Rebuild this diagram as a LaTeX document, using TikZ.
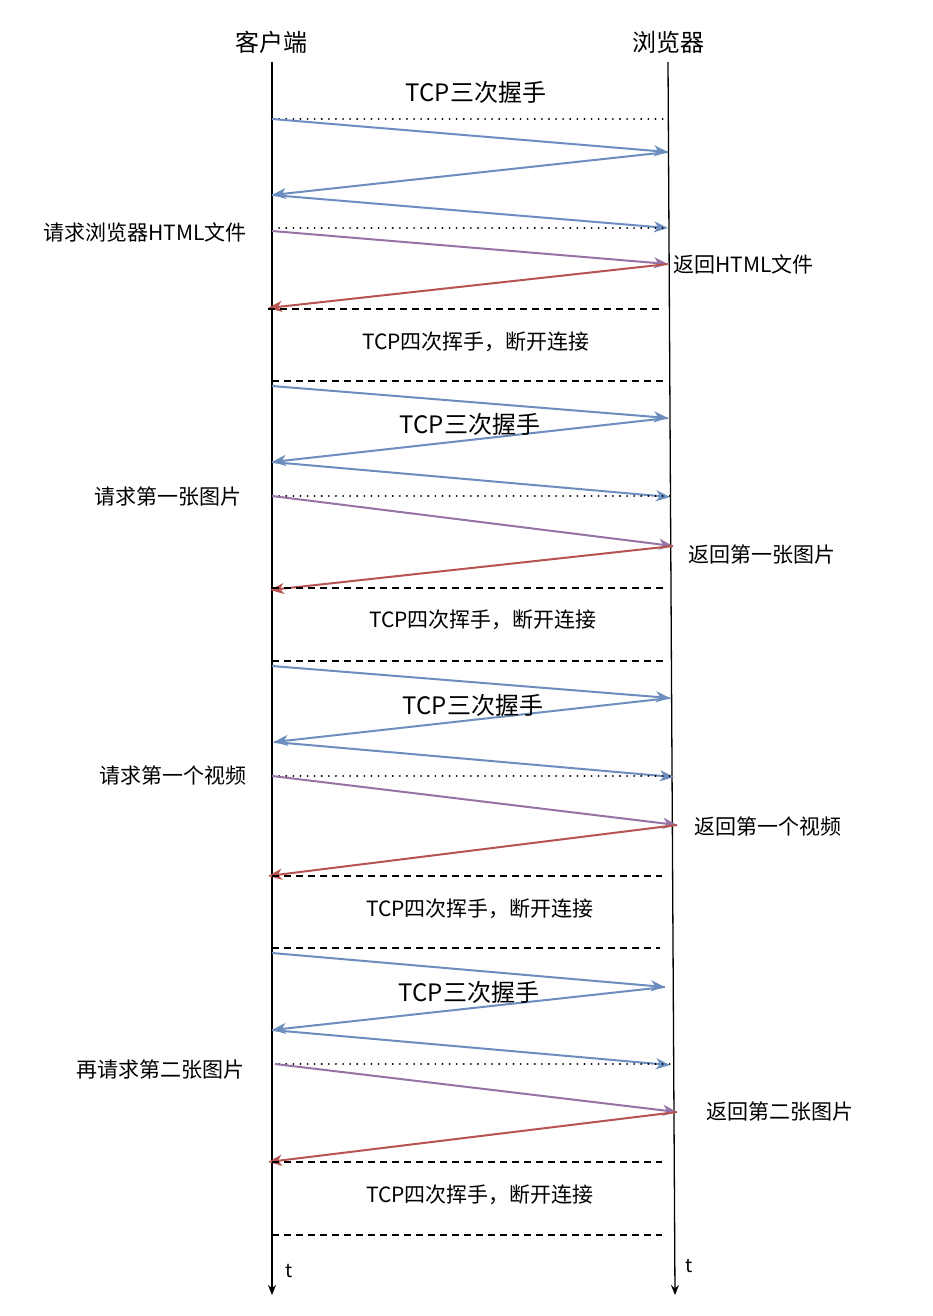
\documentclass[tikz,border=0pt]{standalone}
\usepackage{fontspec}
\setmainfont{Noto Sans CJK SC}
\usetikzlibrary{arrows.meta}
\definecolor{cblue}{HTML}{6C8EBF}
\definecolor{cpurple}{HTML}{9673A6}
\definecolor{cred}{HTML}{B85450}
\begin{document}
\begin{tikzpicture}[x=1pt,y=-1pt,
  msg/.style={line width=2pt,-{Stealth[length=14pt,width=11pt,inset=4pt]}},
  bl/.style={msg,draw=cblue},
  pu/.style={msg,draw=cpurple},
  rd/.style={msg,draw=cred},
  dots/.style={line width=2pt,line cap=round,dash pattern=on 0.1pt off 7pt},
  dline/.style={line width=2pt,dash pattern=on 7pt off 5pt},
  lab/.style={font=\fontsize{21}{21}\selectfont,inner sep=0pt},
  ttl/.style={font=\fontsize{24}{24}\selectfont,inner sep=0pt},
  ax/.style={line width=1.3pt,-{Stealth[length=10pt,width=8pt]}}]
\useasboundingbox (0,0) rectangle (932,1316);
\fill[white] (0,0) rectangle (932,1316);
% axes
\node[ttl] (cl) at (271,42) {客户端};
\node[ttl] (br) at (668,42) {浏览器};
\coordinate (cTop) at (272,62); \coordinate (cBot) at (272,1295);
\coordinate (bTop) at (668,62); \coordinate (bBot) at (675,1295);
\draw[ax] (cTop) -- (cBot);
\draw[ax] (bTop) -- (bBot);
\node[lab,font=\fontsize{19}{19}\selectfont] (t1) at (289,1271) {t};
\node[lab,font=\fontsize{19}{19}\selectfont] (t2) at (689,1266) {t};
% section 1
\node[ttl] (h1) at (476,92) {TCP三次握手};
\draw[dots] (272,119) -- (668,119);
\coordinate (a1) at (272,119); \coordinate (a2) at (668,152);
\coordinate (a3) at (272,195); \coordinate (a4) at (668,228);
\draw[bl] (a1) -- (a2); \draw[bl] (a2) -- (a3); \draw[bl] (a3) -- (a4);
\draw[dots] (272,228) -- (668,228);
\node[lab,anchor=east] (q1) at (247,232) {请求浏览器HTML文件};
\coordinate (a5) at (272,231); \coordinate (a6) at (668,264); \coordinate (a7) at (268,308);
\draw[pu] (a5) -- (a6); \draw[rd] (a6) -- (a7);
\node[lab,anchor=west] (r1) at (673,264) {返回HTML文件};
\draw[dline] (268,309) -- (660,309);
\node[lab] (f1) at (476,342) {TCP四次挥手，断开连接};
\draw[dline] (272,381) -- (664,381);
% section 2
\coordinate (b1) at (272,386); \coordinate (b2) at (668,418);
\coordinate (b3) at (272,462); \coordinate (b4) at (670,497);
\draw[bl] (b1) -- (b2); \draw[bl] (b2) -- (b3); \draw[bl] (b3) -- (b4);
\node[ttl] (h2) at (470,424) {TCP三次握手};
\draw[dots] (272,496) -- (670,496);
\node[lab,anchor=east] (q2) at (242,497) {请求第一张图片};
\coordinate (b5) at (272,496); \coordinate (b6) at (673,546); \coordinate (b7) at (270,590);
\draw[pu] (b5) -- (b6); \draw[rd] (b6) -- (b7);
\node[lab,anchor=west] (r2) at (688,555) {返回第一张图片};
\draw[dline] (272,588) -- (666,588);
\node[lab] (f2) at (483,620) {TCP四次挥手，断开连接};
\draw[dline] (272,661) -- (666,661);
% section 3
\coordinate (c1) at (272,666); \coordinate (c2) at (670,698);
\coordinate (c3) at (274,742); \coordinate (c4) at (674,777);
\draw[bl] (c1) -- (c2); \draw[bl] (c2) -- (c3); \draw[bl] (c3) -- (c4);
\node[ttl] (h3) at (473,705) {TCP三次握手};
\draw[dots] (272,776) -- (674,776);
\node[lab,anchor=east] (q3) at (247,775) {请求第一个视频};
\coordinate (c5) at (272,776); \coordinate (c6) at (677,825); \coordinate (c7) at (268,876);
\draw[pu] (c5) -- (c6); \draw[rd] (c6) -- (c7);
\node[lab,anchor=west] (r3) at (694,826) {返回第一个视频};
\draw[dline] (272,876) -- (662,876);
\node[lab] (f3) at (480,909) {TCP四次挥手，断开连接};
\draw[dline] (272,948) -- (660,948);
% section 4
\coordinate (d1) at (272,953); \coordinate (d2) at (665,987);
\coordinate (d3) at (272,1030); \coordinate (d4) at (670,1065);
\draw[bl] (d1) -- (d2); \draw[bl] (d2) -- (d3); \draw[bl] (d3) -- (d4);
\node[ttl] (h4) at (469,992) {TCP三次握手};
\draw[dots] (272,1064) -- (670,1064);
\node[lab,anchor=east] (q4) at (245,1070) {再请求第二张图片};
\coordinate (d5) at (275,1064); \coordinate (d6) at (677,1112); \coordinate (d7) at (268,1162);
\draw[pu] (d5) -- (d6); \draw[rd] (d6) -- (d7);
\node[lab,anchor=west] (r4) at (706,1112) {返回第二张图片};
\draw[dline] (272,1162) -- (662,1162);
\node[lab] (f4) at (480,1195) {TCP四次挥手，断开连接};
\draw[dline] (272,1235) -- (662,1235);
\end{tikzpicture}
\end{document}
